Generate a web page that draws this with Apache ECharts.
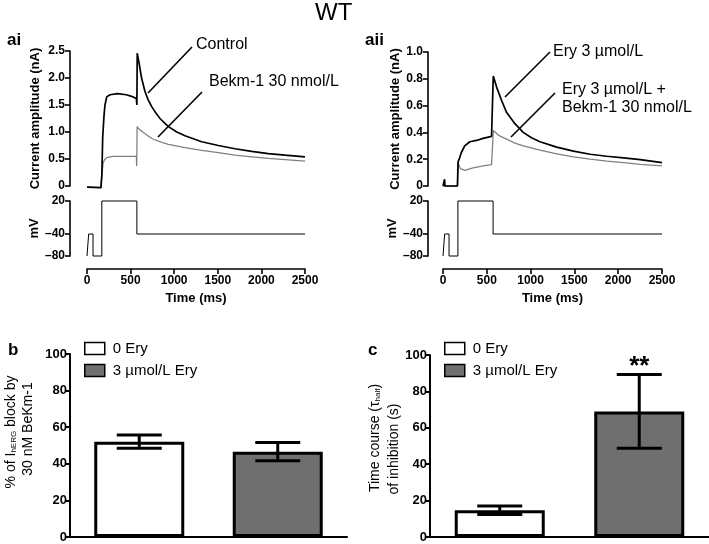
<!DOCTYPE html>
<html><head><meta charset="utf-8">
<script src="https://cdn.jsdelivr.net/npm/echarts@6/dist/echarts.min.js"></script>
<style>html,body{margin:0;padding:0;background:#fff}#c{width:709px;height:544px}</style>
</head><body><div id="c"></div>
<script>
// ---- data ----
const timeTicks = [0, 500, 1000, 1500, 2000, 2500];
const protoT = [0, 19, 19, 69, 69, 170, 170, 572, 572, 2500];
const protoV = [-80, -80, -40, -40, -80, -80, 20, 20, -40, -40];
const mvTicks = [-80, -40, 20];

const aiControl = [[0,-0.02],[160,-0.03],[168,-0.05],[170,0.2],[180,0.9],[195,1.3],[206,1.5],[226,1.65],[264,1.69],[350,1.71],[450,1.69],[530,1.65],[566,1.62],[572,1.5],[576,2.46],[600,2.25],[627,1.99],[665,1.75],[700,1.6],[742,1.47],[790,1.35],[837,1.25],[933,1.10],[1030,1.0],[1124,0.93],[1315,0.82],[1506,0.75],[1697,0.69],[1888,0.64],[2079,0.60],[2271,0.57],[2500,0.54]];
const aiBekm = [[0,-0.02],[160,-0.03],[168,-0.04],[170,0.2],[185,0.42],[199,0.48],[230,0.53],[300,0.55],[450,0.55],[566,0.55],[570,0.37],[575,1.10],[600,1.05],[646,0.99],[742,0.88],[833,0.82],[933,0.77],[1124,0.71],[1315,0.66],[1506,0.62],[1697,0.57],[1888,0.54],[2079,0.51],[2271,0.49],[2500,0.46]];
const aiiEry = [[0,0],[15,0],[18,0.05],[22,0],[40,-0.01],[165,0],[172,0.18],[190,0.21],[210,0.25],[248,0.30],[306,0.33],[382,0.34],[458,0.355],[554,0.37],[570,0.37],[574,0.82],[611,0.74],[668,0.64],[725,0.55],[821,0.465],[916,0.40],[1010,0.36],[1107,0.33],[1298,0.29],[1489,0.26],[1679,0.237],[1870,0.222],[2061,0.21],[2252,0.197],[2500,0.175]];
const aiiEryBekm = [[0,0],[165,0],[172,0.17],[199,0.13],[248,0.117],[344,0.135],[458,0.15],[554,0.16],[565,0.155],[575,0.415],[630,0.38],[725,0.35],[821,0.32],[916,0.30],[1107,0.267],[1298,0.24],[1489,0.217],[1679,0.20],[1870,0.185],[2061,0.175],[2252,0.162],[2500,0.15]];

const groups = ['0 Ery', '3 \u00b5mol/L Ery'];
const bMeans = [52.1, 46.6];
const bErr = [3.6, 5.0];
const cMeans = [14.7, 69.0];
const cErr = [2.3, 20.3];
const cSig = ['', '**'];

// ---- styling ----
const FF = 'Liberation Sans, Arial, Helvetica, sans-serif';
const protoData = protoT.map((t, i) => [t, protoV[i]]);
const tickLbl = {color:'#000', fontWeight:'bold', fontSize:12, fontFamily:FF};
const nameStyle = {color:'#000', fontWeight:'bold', fontSize:13, fontFamily:FF};
const axLine = {show:true, onZero:false, lineStyle:{color:'#000', width:1.6}};
const axTick = {show:true, inside:false, length:5, lineStyle:{color:'#000', width:1.6}};
const dec = v => v === 0 ? '0' : v.toFixed(1);
const mvFmt = v => v < 0 ? '\u2013' + Math.abs(v) : String(v);

function curX(g){ return {gridIndex:g, type:'value', min:0, max:2500, show:false}; }
function timeX(g){ return {gridIndex:g, type:'value', min:0, max:2500, offset:13,
  axisLine:axLine, axisTick:Object.assign({customValues:timeTicks}, axTick), splitLine:{show:false},
  axisLabel:Object.assign({margin:6, customValues:timeTicks, formatter:v => String(v)}, tickLbl),
  name:'Time (ms)', nameLocation:'middle', nameGap:23, nameTextStyle:nameStyle}; }
function curY(g, max, interval, off, gap){ return {gridIndex:g, type:'value', min:0, max:max, interval:interval, offset:off,
  axisLine:axLine, axisTick:axTick, splitLine:{show:false},
  axisLabel:Object.assign({margin:5, formatter:dec}, tickLbl),
  name:'Current amplitude (nA)', nameLocation:'middle', nameGap:gap, nameTextStyle:nameStyle}; }
function mvY(g, off, gap){ return {gridIndex:g, type:'value', min:-80, max:20, offset:off,
  axisLine:axLine, axisTick:Object.assign({customValues:mvTicks}, axTick), splitLine:{show:false},
  axisLabel:Object.assign({margin:5, formatter:mvFmt, customValues:mvTicks}, tickLbl),
  name:'mV', nameLocation:'middle', nameGap:gap, nameTextStyle:nameStyle}; }
function catX(g){ return {gridIndex:g, type:'category', data:groups, axisTick:{show:false}, axisLabel:{show:false},
  axisLine:{show:true, lineStyle:{color:'#000', width:2}}}; }
function pctY(g){ return {gridIndex:g, type:'value', min:0, max:100, interval:20,
  axisLine:{show:true, lineStyle:{color:'#000', width:2}}, axisTick:{show:true, length:5, lineStyle:{color:'#000', width:2}},
  splitLine:{show:false}, axisLabel:Object.assign({margin:3}, tickLbl, {fontSize:13})}; }

function trace(data, xi, color, w){ return {type:'line', xAxisIndex:xi, yAxisIndex:xi, data:data, showSymbol:false,
  clip:false, silent:true, lineStyle:{color:color, width:w}, z:color==='#000'?3:2}; }

function barSeries(xi, means){ return [
  {type:'bar', name:groups[0], xAxisIndex:xi, yAxisIndex:xi, barWidth:90, barGap:'-100%',
   data:[means[0], '-'], itemStyle:{color:'#fff', borderColor:'#000', borderWidth:3}},
  {type:'bar', name:groups[1], xAxisIndex:xi, yAxisIndex:xi, barWidth:90, barGap:'-100%',
   data:['-', means[1]], itemStyle:{color:'#6f6f6f', borderColor:'#000', borderWidth:3}}
]; }
function errSeries(xi, means, errs, sig){ return {type:'custom', xAxisIndex:xi, yAxisIndex:xi, z:10, silent:true,
  data: means.map((m, i) => [i, m, errs[i], i]),
  renderItem: function(params, api){
    const i = api.value(0), m = api.value(1), e = api.value(2), k = api.value(3);
    const hi = api.coord([i, m + e]), lo = api.coord([i, m - e]);
    const hw = 22.5, st = {stroke:'#000', lineWidth:3};
    const ch = [
      {type:'line', shape:{x1:hi[0], y1:hi[1], x2:lo[0], y2:lo[1]}, style:st},
      {type:'line', shape:{x1:hi[0]-hw, y1:hi[1], x2:hi[0]+hw, y2:hi[1]}, style:st},
      {type:'line', shape:{x1:lo[0]-hw, y1:lo[1], x2:lo[0]+hw, y2:lo[1]}, style:st}
    ];
    if (sig && sig[k]) ch.push({type:'text', x:hi[0], y:hi[1]-21,
      style:{text:sig[k], font:'bold 26px ' + FF, fill:'#000', align:'center', verticalAlign:'top'}});
    return {type:'group', children:ch};
  }}; }

function lbl(text, x, y, size, bold, extra){ return Object.assign({type:'text', x:x, y:y,
  style:{text:text, font:(bold?'bold ':'') + size + 'px ' + FF, fill:'#000', verticalAlign:'middle'}}, extra||{}); }
function ln(x1, y1, x2, y2){ return {type:'line', shape:{x1:x1, y1:y1, x2:x2, y2:y2}, style:{stroke:'#000', lineWidth:1.6}}; }
function rot(text, x, y, rich){ return {type:'text', x:x, y:y, rotation:Math.PI/2,
  style:{text:text, font:'14px ' + FF, fill:'#000', align:'center', verticalAlign:'middle', rich:rich||{}}}; }
const subRich = {s:{fontSize:8, fontFamily:FF, fill:'#000', verticalAlign:'bottom', padding:[6,0,0,0]}};

const legendCommon = {orient:'vertical', itemWidth:20, itemHeight:12, itemGap:7, icon:'rect', data:groups,
  selectedMode:false, textStyle:{fontSize:15, fontFamily:FF, color:'#000', padding:[0,0,0,3]},
  itemStyle:{borderColor:'#000', borderWidth:1.5}};

const option = {
  animation:false,
  backgroundColor:'#fff',
  grid:[
    {left:87, top:51, width:218, height:135},
    {left:87, top:201, width:218, height:55},
    {left:443, top:52, width:219, height:134},
    {left:443, top:201, width:219, height:55},
    {left:70, top:354, width:277, height:183},
    {left:430, top:355, width:279, height:182}
  ],
  xAxis:[curX(0), timeX(1), curX(2), timeX(3), catX(4), catX(5)],
  yAxis:[curY(0, 2.5, 0.5, 17, 28), mvY(1, 17, 29), curY(2, 1.0, 0.2, 15, 26), mvY(3, 15, 29), pctY(4), pctY(5)],
  legend:[
    Object.assign({left:79, top:336}, legendCommon),
    Object.assign({left:439, top:336}, legendCommon)
  ],
  series:[
    trace(aiBekm, 0, '#808080', 1.3),
    trace(aiControl, 0, '#000', 1.7),
    trace(protoData, 1, '#000', 1),
    trace(aiiEryBekm, 2, '#808080', 1.3),
    trace(aiiEry, 2, '#000', 1.7),
    trace(protoData, 3, '#000', 1),
    ...barSeries(4, bMeans),
    errSeries(4, bMeans, bErr, null),
    ...barSeries(5, cMeans),
    errSeries(5, cMeans, cErr, cSig)
  ],
  graphic:[
    lbl('WT', 315, 13, 24, false),
    lbl('ai', 7, 40, 17, true),
    lbl('aii', 365, 40, 17, true),
    lbl('b', 8, 350, 17, true),
    lbl('c', 368, 350, 17, true),
    lbl('Control', 196, 45, 16, false),
    lbl('Bekm-1 30 nmol/L', 209, 82, 16, false),
    ln(192, 47, 148, 93),
    ln(202, 92, 158, 137),
    lbl('Ery 3 \u00b5mol/L', 553, 52, 16, false),
    lbl('Ery 3 \u00b5mol/L +', 562, 90, 16, false),
    lbl('Bekm-1 30 nmol/L', 562, 108, 16, false),
    ln(550, 52, 505, 97),
    ln(555, 93, 511, 137),
    rot('% of I{s|hERG} block by', 11, 432, subRich),
    rot('30 nM BeKm-1', 28, 429),
    rot('Time course (\u03c4{s|half})', 375, 438, subRich),
    rot('of inhibition (s)', 394, 449)
  ]
};
echarts.init(document.getElementById('c'), null, {renderer:'canvas'}).setOption(option);
</script>
</body></html>
